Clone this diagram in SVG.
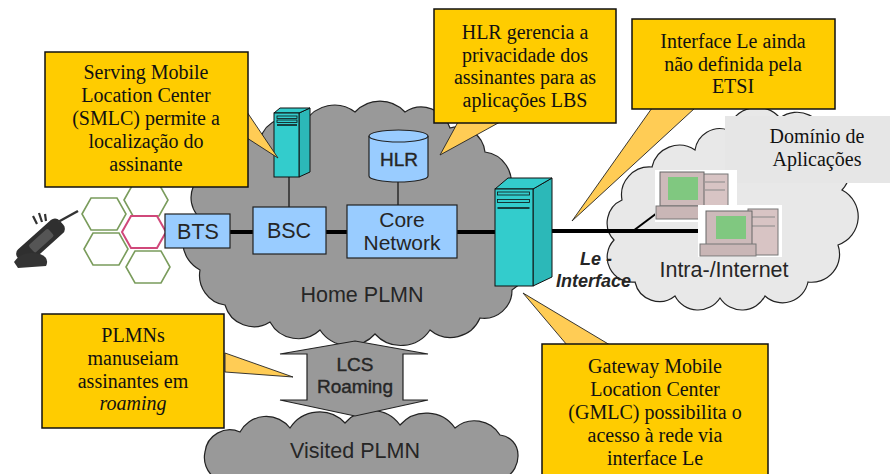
<svg xmlns="http://www.w3.org/2000/svg" width="890" height="474" viewBox="0 0 890 474">
  <defs>
    <style>
      .note { fill: #FFCC00; stroke: #111; stroke-width: 1.5; }
      .tail { fill: #FFCC55; stroke: #222; stroke-width: 0.9; stroke-linejoin: miter; }
      .serif { font-family: "Liberation Serif", "Times New Roman", serif; font-size: 20px; fill: #111; text-anchor: middle; }
      .sans { font-family: "Liberation Sans", Arial, sans-serif; fill: #262626; text-anchor: middle; }
      .node { fill: #99CCFF; stroke: #222; stroke-width: 1.2; }
      .teal { fill: #33CCCC; stroke: #111; stroke-width: 1; }
      .tealside { fill: #2CB8B8; stroke: #111; stroke-width: 1; }
      .cloud { stroke: #222; stroke-width: 1.2; }
      .hexg { fill: none; stroke: #7A9C5C; stroke-width: 1.6; }
      .hexr { fill: none; stroke: #D0487A; stroke-width: 2; }
      .trunk { stroke: #000; stroke-width: 4; fill: none; }
      .thin { stroke: #222; stroke-width: 1.4; fill: none; }
    </style>
    <polygon id="hex" points="-22,0 -13,-16 13,-16 22,0 13,16 -13,16"/>
  </defs>

  <!-- cell pattern -->
  <g id="cells">
    <use href="#hex" class="hexg" transform="translate(146,200)"/>
    <use href="#hex" class="hexg" transform="translate(104,214)"/>
    <use href="#hex" class="hexg" transform="translate(106,249)"/>
    <use href="#hex" class="hexg" transform="translate(148,267)"/>
    <use href="#hex" class="hexr" transform="translate(144,232)"/>
  </g>

  <!-- handset -->
  <g id="handset">
    <g transform="translate(42,240) rotate(-42)">
      <rect x="-30" y="-9" width="56" height="18" rx="6" fill="#2F2F2F"/>
      <rect x="-14" y="-5" width="26" height="10" rx="2" fill="#555"/>
    </g>
    <path d="M14,262 Q22,250 40,254 Q50,258 46,266 L18,268 Z" fill="#333"/>
    <line x1="58" y1="222" x2="78" y2="211" stroke="#333" stroke-width="2.5"/>
    <path d="M33,216 L37,224 M39,213 L42,222 M45,214 L46,221" stroke="#333" stroke-width="2.2"/>
  </g>

  <!-- Home PLMN cloud -->
  <g id="home-plmn">
    <path class="cloud" fill="#999999" d="M197,215 A28,28 0 0 1 215,170 A32,32 0 0 1 260,140 A30,30 0 0 1 305,122 A34,34 0 0 1 355,112 A34,34 0 0 1 405,112 A30,30 0 0 1 450,128 A28,28 0 0 1 485,152 A30,30 0 0 1 510,190 A32,32 0 0 1 518,240 A32,32 0 0 1 512,290 A28,28 0 0 1 480,318 A32,32 0 0 1 430,330 A35,35 0 0 1 375,334 A35,35 0 0 1 320,330 A32,32 0 0 1 270,322 A30,30 0 0 1 225,305 A30,30 0 0 1 200,270 A32,32 0 0 1 197,215 Z"/>
    <text class="sans" x="362" y="302" font-size="21.5">Home PLMN</text>
  </g>

  <!-- Intra-/Internet cloud -->
  <g id="internet">
    <path class="cloud" fill="#E8E8E8" d="M614,240 A25,25 0 0 1 622,200 A28,28 0 0 1 652,167 A28,28 0 0 1 695,150 A25,25 0 0 1 728,130 A30,30 0 0 1 780,118 A28,28 0 0 1 825,140 A30,30 0 0 1 842,190 A30,30 0 0 1 838,245 A28,28 0 0 1 808,282 A26,26 0 0 1 765,296 A26,26 0 0 1 720,298 A26,26 0 0 1 675,296 A25,25 0 0 1 635,282 A25,25 0 0 1 614,240 Z"/>
    <text class="sans" x="724" y="277" font-size="21.5">Intra-/Internet</text>
  </g>

  <!-- application domain label -->
  <g id="dominio">
    <rect x="725" y="116" width="165" height="67" fill="#E6E6E6"/>
    <text class="serif" x="817" y="143" font-size="19.5">Domínio de</text>
    <text class="serif" x="817" y="166" font-size="19.5">Aplicações</text>
  </g>

  <!-- Visited PLMN cloud -->
  <g id="visited-plmn">
    <path class="cloud" fill="#999999" d="M205,452 A25,25 0 0 1 240,432 A30,30 0 0 1 290,428 A35,35 0 0 1 345,423 A35,35 0 0 1 400,425 A35,35 0 0 1 455,428 A30,30 0 0 1 500,435 A20,20 0 0 1 518,455 A25,25 0 0 1 505,478 L215,478 A25,25 0 0 1 205,452 Z"/>
    <text class="sans" x="355" y="458" font-size="21.5">Visited PLMN</text>
  </g>

  <!-- connectors -->
  <g id="connectors">
    <line class="trunk" x1="230" y1="232" x2="253" y2="232"/>
    <line class="trunk" x1="326" y1="232" x2="347" y2="232"/>
    <line class="trunk" x1="457" y1="232" x2="495" y2="232"/>
    <line class="trunk" x1="552" y1="231" x2="707" y2="231" stroke-width="3"/>
    <line class="thin" x1="289" y1="177" x2="289" y2="207"/>
    <line class="thin" x1="398" y1="182" x2="398" y2="205"/>
    <line stroke="#000" stroke-width="2" x1="633" y1="231" x2="677" y2="198"/>
  </g>

  <!-- workstations -->
  <g id="workstation-1">
    <rect x="655" y="170" width="82" height="52" fill="#FFFFFF"/>
    <rect x="702" y="174" width="26" height="44" fill="#D8C4C4" stroke="#777" stroke-width="1"/>
    <line x1="705" y1="182" x2="725" y2="182" stroke="#888"/>
    <line x1="705" y1="190" x2="725" y2="190" stroke="#888"/>
    <rect x="660" y="172" width="44" height="34" fill="#CDBABA" stroke="#666" stroke-width="1"/>
    <rect x="668" y="177" width="30" height="23" fill="#80C880"/>
    <rect x="656" y="206" width="54" height="13" fill="#C9B6B6" stroke="#777" stroke-width="1"/>
  </g>
  <g id="workstation-2">
    <rect x="698" y="205" width="84" height="52" fill="#FFFFFF"/>
    <rect x="748" y="209" width="30" height="46" fill="#D8C4C4" stroke="#777" stroke-width="1"/>
    <line x1="751" y1="217" x2="775" y2="217" stroke="#888"/>
    <line x1="751" y1="226" x2="775" y2="226" stroke="#888"/>
    <rect x="706" y="211" width="46" height="34" fill="#CDBABA" stroke="#666" stroke-width="1"/>
    <rect x="716" y="216" width="30" height="23" fill="#80C880"/>
    <rect x="700" y="244" width="56" height="12" fill="#C9B6B6" stroke="#777" stroke-width="1"/>
  </g>

  <!-- radio / core nodes -->
  <g id="bts">
    <rect class="node" x="165" y="214" width="65" height="34"/>
    <text class="sans" x="198" y="239" font-size="21.5">BTS</text>
  </g>
  <g id="bsc">
    <rect class="node" x="253" y="207" width="73" height="47"/>
    <text class="sans" x="289" y="238" font-size="21.5">BSC</text>
  </g>
  <g id="core-network">
    <rect class="node" x="347" y="205" width="110" height="53"/>
    <text class="sans" x="402" y="227" font-size="21">Core</text>
    <text class="sans" x="402" y="250" font-size="21">Network</text>
  </g>
  <g id="hlr">
    <path class="node" d="M369,136 L369,176 A29.5,6 0 0 0 428,176 L428,136"/>
    <ellipse class="node" cx="398.5" cy="136" rx="29.5" ry="6"/>
    <text class="sans" x="399" y="166" font-size="19" stroke="#262626" stroke-width="0.4">HLR</text>
  </g>

  <!-- SMLC server -->
  <g id="smlc-server">
    <polygon class="tealside" points="299,113 310,108 310,172 299,177"/>
    <polygon class="teal" points="274,113 280,108 310,108 299,113"/>
    <rect class="teal" x="274" y="113" width="25" height="64"/>
    <rect x="277" y="116" width="20" height="2.5" fill="#33CCCC" stroke="#111" stroke-width="0.8"/>
    <rect x="277" y="120" width="20" height="2.5" fill="#33CCCC" stroke="#111" stroke-width="0.8"/>
    <line x1="277" y1="125" x2="297" y2="125" stroke="#111" stroke-width="1.5"/>
  </g>

  <!-- GMLC server -->
  <g id="gmlc-server">
    <polygon class="tealside" points="533,189 552,178 552,277 533,286"/>
    <polygon class="teal" points="495,189 508,178 552,178 533,189"/>
    <rect class="teal" x="495" y="189" width="38" height="97"/>
    <rect x="497.5" y="192" width="32" height="3" fill="#33CCCC" stroke="#111" stroke-width="0.8"/>
    <rect x="497.5" y="199.5" width="32" height="3" fill="#33CCCC" stroke="#111" stroke-width="0.8"/>
    <line x1="497.5" y1="208" x2="529.5" y2="208" stroke="#111" stroke-width="1.6"/>
  </g>

  <!-- Le interface label -->
  <g id="le-label" font-family="'Liberation Sans', Arial, sans-serif" font-size="18" font-weight="bold" font-style="italic" fill="#262626">
    <text x="580" y="265">Le -</text>
    <text x="556" y="287">Interface</text>
  </g>

  <!-- LCS roaming arrow -->
  <g id="lcs-roaming">
    <path d="M355,341 L428,354 L403,354 L403,400 L428,400 L355,416 L280,400 L307,400 L307,354 L280,354 Z" fill="#999999" stroke="#222" stroke-width="1.2" stroke-linejoin="miter"/>
    <text class="sans" x="355" y="371" font-size="19" stroke="#262626" stroke-width="0.4">LCS</text>
    <text class="sans" x="355" y="393" font-size="19" stroke="#262626" stroke-width="0.4">Roaming</text>
  </g>

  <!-- callouts -->
  <g id="note-smlc">
    <polygon class="tail" points="247,112 247,138 278,158"/>
    <rect class="note" x="45" y="52" width="203" height="135"/>
    <text class="serif" x="146" y="79">Serving Mobile</text>
    <text class="serif" x="146" y="102">Location Center</text>
    <text class="serif" x="146" y="125">(SMLC) permite a</text>
    <text class="serif" x="146" y="148">localização do</text>
    <text class="serif" x="146" y="171">assinante</text>
  </g>

  <g id="note-hlr">
    <polygon class="tail" points="458,122 500,122 440,155"/>
    <rect class="note" x="434" y="9" width="182" height="114"/>
    <text class="serif" x="525" y="39">HLR gerencia a</text>
    <text class="serif" x="525" y="61.5">privacidade dos</text>
    <text class="serif" x="525" y="84">assinantes para as</text>
    <text class="serif" x="525" y="106.5">aplicações LBS</text>
  </g>

  <g id="note-le">
    <polygon class="tail" points="652,108 695,108 572,221"/>
    <rect class="note" x="632" y="19" width="203" height="90"/>
    <text class="serif" x="733" y="48">Interface Le ainda</text>
    <text class="serif" x="733" y="71">não definida pela</text>
    <text class="serif" x="733" y="93">ETSI</text>
  </g>

  <g id="note-plmn">
    <polygon class="tail" points="225,353 225,372 293,377"/>
    <rect class="note" x="42" y="314" width="182" height="114"/>
    <text class="serif" x="133" y="342">PLMNs</text>
    <text class="serif" x="133" y="365">manuseiam</text>
    <text class="serif" x="133" y="388">assinantes em</text>
    <text class="serif" x="133" y="410" font-style="italic">roaming</text>
  </g>

  <g id="note-gmlc">
    <polygon class="tail" points="567,345 610,345 523,293"/>
    <rect class="note" x="542" y="344" width="226" height="140"/>
    <text class="serif" x="655" y="373">Gateway Mobile</text>
    <text class="serif" x="655" y="396">Location Center</text>
    <text class="serif" x="655" y="419">(GMLC) possibilita o</text>
    <text class="serif" x="655" y="442">acesso à rede via</text>
    <text class="serif" x="655" y="465">interface Le</text>
  </g>
</svg>
